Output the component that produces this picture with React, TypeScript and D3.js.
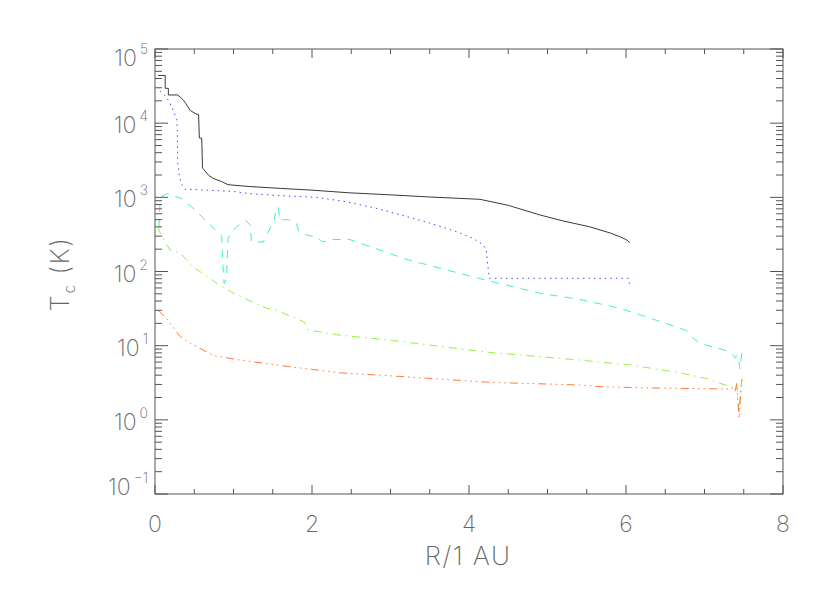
import * as d3 from "d3";
import { useEffect } from "react";

// radius in AU and central temperature in K
const rBlack = [0.04, 0.13, 0.13, 0.17, 0.17, 0.29, 0.33, 0.36, 0.39, 0.45, 0.53, 0.555, 0.565, 0.595, 0.605, 0.624, 0.68, 0.74, 0.85, 0.93, 1.2, 1.6, 2.0, 2.48, 3.0, 3.5, 4.14, 4.5, 4.9, 5.2, 5.54, 5.8, 5.92, 6.0, 6.05];
const tBlack = [44000, 44000, 29500, 29500, 24000, 24000, 22000, 20500, 18600, 14800, 13200, 13200, 6300, 6300, 2500, 2350, 2000, 1800, 1630, 1480, 1400, 1320, 1250, 1150, 1080, 1010, 940, 780, 580, 480, 400, 330, 295, 270, 245];

const rBlue = [0.064, 0.12, 0.17, 0.22, 0.26, 0.28, 0.285, 0.29, 0.31, 0.34, 0.38, 0.6, 1.0, 1.21, 1.63, 2.06, 2.44, 2.8, 3.21, 3.5, 3.84, 4.05, 4.18, 4.22, 4.24, 4.26, 5.0, 6.03, 6.04, 6.07];
const tBlue = [27300, 24000, 20400, 16000, 12500, 11000, 6000, 2900, 1900, 1500, 1290, 1260, 1200, 1120, 1050, 1000, 870, 720, 550, 450, 345, 280, 230, 196, 120, 81, 81, 81, 70, 63];

const rCyan = [0.05, 0.064, 0.1, 0.157, 0.2, 0.34, 0.4, 0.51, 0.64, 0.7, 0.85, 0.86, 0.88, 0.91, 0.93, 0.98, 1.04, 1.15, 1.21, 1.23, 1.38, 1.42, 1.52, 1.54, 1.57, 1.59, 1.7, 1.8, 1.83, 1.93, 2.04, 2.14, 2.19, 2.23, 2.48, 3.21, 4.18, 4.9, 5.41, 5.92, 6.39, 6.77, 6.82, 6.94, 7.26, 7.37, 7.39, 7.42, 7.44, 7.45, 7.48];
const tCyan = [400, 830, 1050, 1120, 1080, 960, 850, 680, 490, 430, 300, 150, 69, 80, 280, 350, 400, 490, 430, 250, 250, 310, 490, 700, 740, 500, 500, 450, 350, 310, 295, 250, 260, 270, 270, 145, 78, 51, 42, 32, 22, 16, 13.5, 10.7, 8.7, 7.4, 6.8, 7.5, 6.0, 4.9, 8.7];

const rGreen = [0.04, 0.06, 0.13, 0.19, 0.32, 0.4, 0.45, 0.57, 0.79, 1.0, 1.17, 1.42, 1.55, 1.85, 1.9, 1.95, 2.36, 2.95, 4.27, 5.41, 5.67, 6.05, 6.69, 7.03, 7.28, 7.35, 7.41, 7.44, 7.46, 7.48];
const tGreen = [400, 340, 250, 195, 178, 144, 123, 100, 69, 51, 42, 32, 30, 22, 21, 16.3, 13.8, 12, 8.1, 6.4, 6.0, 5.5, 4.3, 3.6, 2.9, 2.8, 3.1, 1.2, 2.6, 3.6];

const rOrange = [0.04, 0.15, 0.32, 0.45, 0.74, 1.08, 1.72, 2.36, 2.87, 4.27, 5.41, 5.67, 6.26, 7.32, 7.35, 7.39, 7.41, 7.44, 7.46, 7.48];
const tOrange = [30, 23, 13.3, 10.8, 7.4, 6.4, 5.2, 4.3, 4.0, 3.2, 2.95, 2.8, 2.7, 2.6, 2.7, 2.4, 3.1, 1.05, 2.2, 3.8];

const xTicks = [0, 2, 4, 6, 8];
const yExponents = [-1, 0, 1, 2, 3, 4, 5];

const series = [
    { r: rBlack, t: tBlack, color: "#3a3a3a", dash: null },
    { r: rBlue, t: tBlue, color: "#4a4aff", dash: "1.5,4" },
    { r: rCyan, t: tCyan, color: "#40f0c8", dash: "8,7" },
    { r: rGreen, t: tGreen, color: "#98f040", dash: "8,5,1.5,5" },
    { r: rOrange, t: tOrange, color: "#ff7a3c", dash: "8,4,1.5,4,1.5,4,1.5,4" },
];

const left = 155, right = 783, top = 49, bottom = 494;
const font = "Inter, 'DejaVu Sans', sans-serif";
const axisColor = "#555";
const textColor = "#666";

const App = () => {
    useEffect(() => {
        document.body.style.margin = "0";
    }, []);

    const x = d3.scaleLinear().domain([0, 8]).range([left, right]);
    const y = d3.scaleLog().domain([0.1, 1e5]).range([bottom, top]);

    const line = d3.line<[number, number]>()
        .x(d => x(d[0]))
        .y(d => y(d[1]));

    const minorX = d3.range(0, 8.01, 0.5).filter(v => v % 2 !== 0);
    const minorY: number[] = [];
    yExponents.slice(0, -1).forEach(e => {
        for (let k = 2; k <= 9; k++) minorY.push(k * Math.pow(10, e));
    });

    const labelDy = (e: number) => (e === 5 ? 17 : e === -1 ? 1 : 10);

    return (
        <svg width={830} height={593} style={{ display: "block", background: "#fff" }}>
            {series.map((s, i) => (
                <path key={i}
                    d={line(s.r.map((r, j) => [r, s.t[j]] as [number, number])) || ""}
                    fill="none" stroke={s.color} strokeWidth={1}
                    strokeDasharray={s.dash || undefined} />
            ))}

            <rect x={left} y={top} width={right - left} height={bottom - top}
                fill="none" stroke={axisColor} strokeWidth={1} />

            {/* x ticks, drawn inward on bottom and top */}
            {xTicks.map(v => (
                <g key={"xt" + v} stroke={axisColor}>
                    <line x1={x(v)} x2={x(v)} y1={bottom} y2={bottom - 9} />
                    <line x1={x(v)} x2={x(v)} y1={top} y2={top + 9} />
                </g>
            ))}
            {minorX.map(v => (
                <g key={"xm" + v} stroke={axisColor}>
                    <line x1={x(v)} x2={x(v)} y1={bottom} y2={bottom - 5} />
                    <line x1={x(v)} x2={x(v)} y1={top} y2={top + 5} />
                </g>
            ))}

            {/* y ticks, inward on left and right */}
            {yExponents.map(e => (
                <g key={"yt" + e} stroke={axisColor}>
                    <line x1={left} x2={left + 13} y1={y(Math.pow(10, e))} y2={y(Math.pow(10, e))} />
                    <line x1={right} x2={right - 13} y1={y(Math.pow(10, e))} y2={y(Math.pow(10, e))} />
                </g>
            ))}
            {minorY.map((v, i) => (
                <g key={"ym" + i} stroke={axisColor}>
                    <line x1={left} x2={left + 7} y1={y(v)} y2={y(v)} />
                    <line x1={right} x2={right - 7} y1={y(v)} y2={y(v)} />
                </g>
            ))}

            {xTicks.map(v => (
                <text key={"xl" + v} x={x(v)} y={532} textAnchor="middle"
                    fontFamily={font} fontWeight={200} fontSize={23} fill={textColor}>
                    {v}
                </text>
            ))}

            {yExponents.map(e => (
                <text key={"yl" + e} x={148} y={y(Math.pow(10, e)) + labelDy(e)} textAnchor="end"
                    fontFamily={font} fontWeight={200} fontSize={23} fill={textColor}>
                    <tspan>10</tspan>
                    <tspan dx={3} dy={-12} fontSize={14}>{e < 0 ? "\u2212" + Math.abs(e) : e}</tspan>
                </text>
            ))}

            <text x={468} y={565} textAnchor="middle" fontFamily={font} fontWeight={200}
                fontSize={26} letterSpacing={1.5} fill={textColor}>R/1 AU</text>

            <text transform="translate(69,274) rotate(-90)" textAnchor="middle" fontFamily={font}
                fontWeight={200} fontSize={26} letterSpacing={1.5} fill={textColor}>
                <tspan>T</tspan>
                <tspan dy={6} fontSize={16}>c</tspan>
                <tspan dy={-6}> (K)</tspan>
            </text>
        </svg>
    );
};

export default App;
